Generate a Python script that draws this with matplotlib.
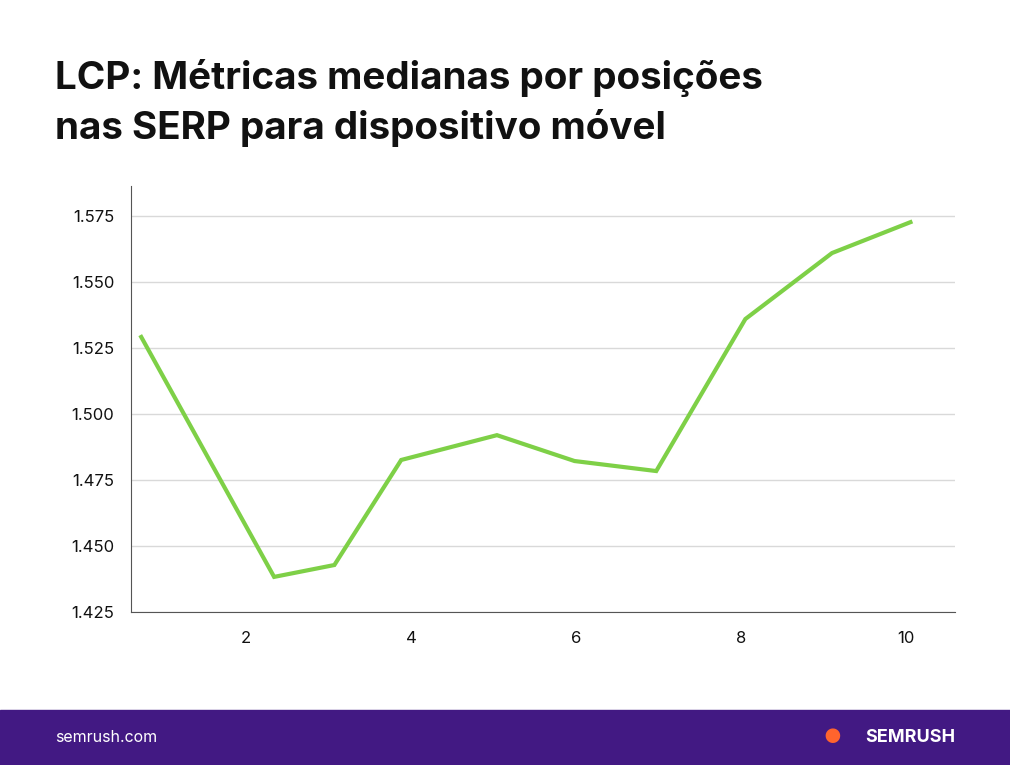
import matplotlib
matplotlib.use("Agg")
import matplotlib.pyplot as plt
from matplotlib.patches import Rectangle

positions = [0.73, 2.34, 3.07, 3.88, 5.04, 5.98, 6.97, 8.05, 9.10, 10.05]
lcp = [1.5292, 1.4383, 1.4428, 1.4826, 1.4920, 1.4822, 1.4784, 1.5360, 1.5610, 1.5727]
yticks = [1.425, 1.450, 1.475, 1.500, 1.525, 1.550, 1.575]
ytick_labels = ["1.425", "1.450", "1.475", "1.500", "1.525", "1.550", "1.575"]
xticks = [2, 4, 6, 8, 10]

plt.rcParams["font.family"] = "Inter"
fig = plt.figure(figsize=(10.1, 7.65), dpi=100)
fig.patch.set_facecolor("white")
ax = fig.add_axes([131/1010, 1-612/765, (955-131)/1010, (612-186)/765])
ax.plot(positions, lcp, color="#7ed047", lw=3, solid_joinstyle="miter")
ax.set_xlim(0.606, 10.59)
ax.set_ylim(1.425, 1.5864)
ax.set_yticks(yticks, ytick_labels)
ax.set_xticks(xticks)
ax.grid(axis="y", color="#d9d9d9", lw=1)
ax.set_axisbelow(True)
for s in ["top", "right"]:
    ax.spines[s].set_visible(False)
ax.spines["left"].set_color("#555555")
ax.spines["bottom"].set_color("#555555")
ax.tick_params(length=0, labelsize=12, colors="#111111", pad=14)
ax.tick_params(axis="y", pad=12)

fig.text(55/1010, 1-78/765, "LCP: Métricas medianas por posições", fontsize=27.8, fontweight="bold", va="center", color="#111111")
fig.text(55/1010, 1-128/765, "nas SERP para dispositivo móvel", fontsize=27.8, fontweight="bold", va="center", color="#111111")

fig.patches.append(Rectangle((0, 0), 1, 55/765, transform=fig.transFigure, color="#421983", zorder=0))
fig.text(55/1010, 27/765, "semrush.com", color="white", fontsize=11.5, va="center")
fig.text(955/1010, 27/765, "SEMRUSH", color="white", fontsize=13, fontweight="bold", va="center", ha="right")
fig.text(832/1010, 27/765, "●", color="#ff642d", fontsize=14, va="center", ha="center")
fig.savefig("out.png", dpi=100)
